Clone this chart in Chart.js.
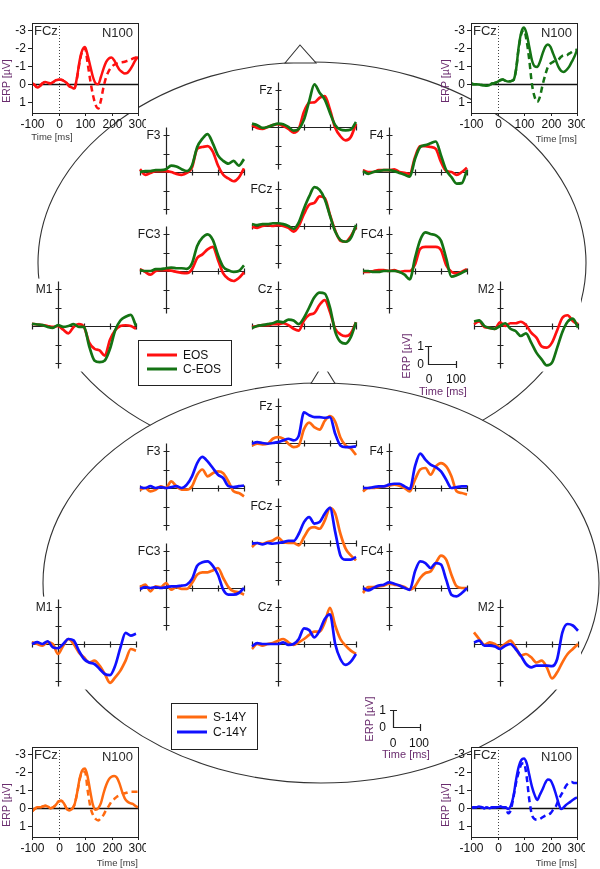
<!DOCTYPE html>
<html lang="en">
<head>
<meta charset="UTF-8">
<title>ERP topography</title>
<script src="https://cdn.jsdelivr.net/npm/chart.js"></script>
<style>
  html, body { margin: 0; padding: 0; background: #fff; }
  #stage { position: relative; width: 600px; height: 869px; overflow: hidden; font-family: "Liberation Sans", Arial, sans-serif; }
  #stage canvas, #stage svg { position: absolute; }
</style>
</head>
<body>
<div id="stage">
  <svg id="heads" width="600" height="869" style="left:0;top:0">
    <ellipse cx="312" cy="263" rx="274" ry="201" fill="none" stroke="#333" stroke-width="1.1"/>
    <polygon points="285,63 300,45 316,63" fill="#fff" stroke="#333" stroke-width="1.1"/>
    <ellipse cx="321" cy="583" rx="278" ry="200" fill="#fff" stroke="#333" stroke-width="1.1"/>
    <polygon points="311,383.5 323,364 335,383.5" fill="#fff" stroke="#333" stroke-width="1.1"/>
  </svg>
</div>
<script>
// time axes (ms)
const t20 = [-100, -80, -60, -40, -20, 0, 20, 40, 60, 80, 100, 120, 140, 160, 180, 200, 220, 240, 260, 280, 300];
const t10 = [-100, -90, -80, -70, -60, -50, -40, -30, -20, -10, 0, 10, 20, 30, 40, 50, 60, 70, 80, 90, 100,
             110, 120, 130, 140, 150, 160, 170, 180, 190, 200, 210, 220, 230, 240, 250, 260, 270, 280, 290, 300];
const siteXTicks = [-100, 0, 100, 200, 300];
const siteYTicks = [-2, -1, 0, 1, 2];
const boxYTicks = [-3, -2, -1, 0, 1];

// EOS (red) vs C-EOS (green), µV
const eosFz  = [-0.1, 0.05, 0.1, 0.0, -0.1, -0.15, -0.05, 0.1, 0.3, 0.1, -0.83, -1.31, -1.33, -1.58, -1.67, -0.94, 0.04, 0.5, 0.72, 0.54, -0.18];
const ceosFz = [-0.18, -0.1, 0.05, 0.0, -0.1, -0.18, -0.15, 0.0, 0.2, 0.1, -0.4, -1.4, -2.3, -1.85, -1.48, -0.76, -0.1, 0.14, 0.18, 0.14, -0.27];
const eosF3  = [-0.15, 0.15, 0.05, -0.05, -0.05, -0.05, 0.0, 0.1, 0.15, 0.05, -0.25, -1.25, -1.35, -1.4, -1.1, -0.35, 0.15, 0.35, 0.5, 0.3, -0.2];
const ceosF3 = [0.0, -0.05, -0.05, -0.1, -0.1, -0.15, -0.35, -0.3, -0.15, -0.05, -0.35, -1.35, -1.8, -2.05, -1.55, -0.9, -0.6, -0.45, -0.6, -0.35, -0.7];
const eosF4  = [-0.1, 0.0, 0.0, -0.1, -0.1, -0.1, -0.15, 0.0, 0.05, 0.1, -0.8, -1.4, -1.4, -1.35, -1.25, -0.54, -0.05, 0.0, 0.15, 0.0, -0.23];
const ceosF4 = [-0.05, 0.1, 0.0, -0.05, -0.1, -0.1, -0.05, 0.05, 0.15, 0.25, -0.7, -1.35, -1.45, -1.55, -1.65, -0.9, -0.1, 0.27, 0.63, 0.6, -0.1];
const eosFCz  = [0.05, 0.1, 0.0, -0.05, 0.0, -0.05, 0.0, 0.1, 0.3, 0.0, -0.65, -1.15, -1.25, -1.6, -1.5, -0.6, 0.25, 0.8, 0.85, 0.55, 0.05];
const ceosFCz = [-0.1, -0.05, -0.1, -0.1, -0.15, -0.15, -0.1, 0.0, 0.15, -0.2, -0.95, -1.6, -2.1, -1.95, -1.45, -0.55, 0.3, 0.75, 0.85, 0.65, -0.05];
const eosFC3  = [-0.1, 0.05, 0.2, 0.0, -0.05, -0.05, -0.02, 0.05, 0.1, 0.12, -0.1, -0.7, -0.9, -1.17, -1.3, -0.6, 0.13, 0.43, 0.54, 0.38, 0.07];
const ceosFC3 = [-0.05, 0.0, 0.0, -0.1, -0.1, -0.15, -0.18, -0.15, -0.15, -0.12, -0.41, -1.35, -1.8, -1.98, -1.68, -0.86, -0.23, -0.04, 0.05, 0.0, -0.3];
const eosFC4  = [0.05, 0.05, 0.0, -0.05, -0.05, 0.0, -0.05, 0.05, 0.0, 0.0, -0.35, -1.2, -1.3, -1.3, -1.3, -1.13, -0.32, 0.04, 0.13, 0.04, -0.1];
const ceosFC4 = [0.0, 0.0, 0.05, 0.05, 0.0, 0.0, 0.0, 0.05, 0.2, 0.45, -0.7, -1.68, -2.09, -2.0, -1.93, -1.64, -0.68, 0.3, 0.23, 0.1, -0.05];
const eosCz  = [0.05, 0.0, -0.05, -0.05, -0.1, -0.1, -0.15, -0.05, 0.15, 0.25, -0.3, -0.6, -0.7, -1.15, -1.4, -0.75, 0.15, 0.45, 0.55, 0.4, -0.2];
const ceosCz = [0.1, 0.0, -0.05, -0.1, -0.15, -0.25, -0.2, -0.35, -0.3, -0.1, -0.45, -1.0, -1.55, -1.8, -1.75, -1.0, 0.3, 0.85, 0.95, 0.6, -0.2];
const eosM1  = [-0.12, -0.08, -0.05, 0.0, 0.05, 0.0, 0.2, 0.4, 0.05, -0.1, 0.05, 0.9, 1.23, 1.32, 1.6, 0.74, 0.23, 0.0, -0.04, 0.0, 0.15];
const ceosM1 = [-0.12, -0.08, -0.05, 0.05, 0.1, -0.05, 0.05, 0.0, -0.1, 0.05, 0.05, 1.1, 1.86, 1.95, 1.86, 1.23, 0.23, -0.3, -0.5, -0.6, 0.0];
const eosM2  = [-0.1, -0.25, 0.05, 0.1, 0.15, -0.2, 0.0, -0.15, -0.15, -0.23, -0.05, 0.36, 0.63, 1.1, 1.17, 0.9, 0.23, -0.45, -0.58, -0.27, -0.1];
const ceosM2 = [-0.25, -0.3, 0.0, 0.1, 0.15, 0.0, -0.15, 0.15, 0.27, 0.54, 0.4, 0.9, 1.44, 1.8, 2.13, 1.98, 1.17, 0.32, -0.23, -0.4, 0.09];

// S-14Y (orange) vs C-14Y (blue), µV
const s14Fz = [0.13, 0.04, 0.07, 0.04, -0.23, -0.32, -0.23, 0.04, 0.22, 0.13, -0.75, -1.1, -0.85, -0.72, -1.2, -1.45, -1.15, -0.3, 0.13, 0.3, 0.65];
const c14Fz = [0.04, -0.05, 0.0, 0.04, 0.0, -0.05, -0.14, -0.23, -0.14, -0.4, -1.65, -1.5, -1.4, -1.4, -1.36, -1.4, -0.5, 0.13, 0.22, 0.22, 0.18];
const s14F3 = [0.09, 0.0, 0.18, 0.09, -0.09, 0.0, -0.36, -0.09, 0.09, 0.09, -0.09, -0.72, -1.0, -0.63, -0.8, -0.9, -0.8, -0.36, 0.18, 0.27, 0.45];
const c14F3 = [-0.05, 0.0, -0.1, 0.0, -0.05, 0.0, -0.05, -0.1, 0.0, -0.18, -0.63, -1.35, -1.68, -1.44, -1.08, -0.72, -0.54, -0.1, -0.05, -0.1, -0.13];
const s14F4 = [0.18, 0.0, 0.0, -0.05, -0.09, -0.13, -0.18, -0.13, 0.0, 0.18, -0.45, -1.0, -1.08, -0.72, -1.17, -1.35, -1.17, -0.63, 0.18, 0.27, 0.36];
const c14F4 = [0.0, 0.0, -0.05, -0.09, -0.09, -0.18, -0.23, -0.23, -0.09, 0.05, -1.17, -1.86, -1.53, -1.26, -1.13, -0.9, -0.45, 0.0, -0.05, -0.09, -0.09];
const s14FCz = [0.22, 0.0, 0.04, -0.05, -0.14, -0.29, -0.05, 0.0, 0.0, 0.13, -0.32, -0.77, -0.86, -0.77, -1.22, -1.9, -1.59, -0.5, 0.3, 0.67, 0.94];
const c14FCz = [0.04, 0.0, 0.07, 0.0, 0.04, 0.0, -0.05, -0.11, -0.11, -0.5, -1.13, -1.4, -1.05, -1.13, -1.59, -1.9, -0.6, 0.67, 0.9, 0.9, 0.75];
const s14FC3 = [-0.05, -0.18, 0.18, -0.09, -0.05, -0.27, 0.09, -0.05, 0.05, 0.05, -0.27, -0.72, -0.85, -0.85, -0.95, -1.08, -0.54, -0.05, 0.18, 0.23, 0.36];
const c14FC3 = [0.05, -0.05, 0.0, -0.05, 0.0, -0.05, -0.09, -0.09, -0.13, -0.18, -0.49, -1.2, -1.39, -1.44, -1.2, -0.72, 0.09, 0.36, 0.36, 0.27, 0.0];
const s14FC4 = [0.27, -0.05, -0.05, -0.09, -0.13, -0.23, -0.18, -0.13, -0.05, 0.09, -0.09, -0.54, -0.81, -0.9, -1.35, -1.75, -1.53, -0.72, -0.09, 0.0, 0.0];
const c14FC4 = [0.0, 0.13, 0.0, -0.13, -0.18, -0.3, -0.23, -0.13, 0.0, 0.1, -0.9, -1.44, -1.35, -1.08, -1.35, -1.27, -0.45, 0.36, 0.45, 0.27, 0.0];
const s14Cz = [0.27, 0.0, 0.09, 0.0, -0.05, -0.18, -0.27, -0.09, 0.05, -0.09, -0.27, -0.49, -0.67, -0.67, -1.17, -1.95, -1.0, -0.27, 0.09, 0.36, 0.54];
const c14Cz = [0.13, -0.05, 0.0, 0.0, 0.0, 0.0, -0.09, 0.05, 0.0, -0.27, -0.85, -0.75, -0.36, -0.72, -1.35, -1.6, 0.0, 0.81, 1.13, 0.95, 0.54];
const s14M1 = [-0.09, 0.0, 0.09, -0.09, 0.0, 0.54, 0.09, -0.27, 0.0, 0.45, 0.72, 1.0, 0.9, 1.17, 1.62, 2.1, 1.8, 1.44, 0.9, 0.27, 0.36];
const c14M1 = [0.0, -0.1, 0.0, -0.15, 0.18, 0.23, 0.0, -0.27, -0.2, 0.36, 0.81, 1.0, 1.08, 1.35, 1.62, 1.68, 1.17, 0.2, -0.6, -0.45, -0.55];
const s14M2 = [-0.63, -0.27, 0.05, -0.09, 0.0, 0.18, 0.0, -0.18, 0.18, 0.63, 0.54, 0.72, 1.0, 0.9, 1.26, 1.86, 1.53, 0.99, 0.54, 0.27, 0.0];
const c14M2 = [-0.09, -0.18, 0.09, 0.09, 0.13, 0.27, 0.09, 0.0, 0.27, 0.63, 1.08, 1.26, 1.17, 1.17, 1.17, 1.2, 0.81, -0.63, -1.08, -1.0, -0.72];

// FCz N100 insets (solid + dashed), µV
const eosN100     = [-0.05, 0.05, 0.18, 0.1, -0.05, -0.12, -0.08, -0.05, -0.12, -0.22, -0.25, -0.25, -0.18, -0.08, 0.1, 0.18, 0.24, -0.4, -1.33, -1.9,
                     -2.07, -1.6, -1.0, -0.4, -0.05, 0.0, -0.4, -0.87, -1.24, -1.43, -1.48, -1.33, -1.05, -0.8, -0.68, -0.6, -0.63, -0.8, -1.05, -1.33, -1.52];
const eosN100Dash = [-0.05, 0.05, 0.18, 0.1, -0.05, -0.12, -0.08, -0.05, -0.12, -0.22, -0.25, -0.25, -0.18, -0.08, 0.1, 0.18, 0.24, -0.35, -1.25, -1.85,
                     -2.0, -1.15, -0.2, 0.6, 1.15, 1.35, 0.9, 0.15, -0.4, -0.74, -0.96, -1.08, -1.15, -1.2, -1.22, -1.25, -1.3, -1.35, -1.42, -1.47, -1.52];
const ceosN100     = [-0.04, 0.0, 0.0, 0.02, 0.05, 0.06, 0.08, 0.05, -0.04, -0.07, -0.13, -0.22, -0.26, -0.19, -0.15, -0.17, -0.22, -0.8, -2.07, -2.9,
                      -3.15, -2.8, -2.07, -1.33, -1.0, -0.96, -1.24, -1.7, -2.07, -2.2, -2.07, -1.7, -1.33, -0.96, -0.74, -0.68, -0.78, -0.96, -1.24, -1.52, -1.9];
const ceosN100Dash = [-0.04, 0.0, 0.0, 0.02, 0.05, 0.06, 0.08, 0.05, -0.04, -0.07, -0.13, -0.22, -0.26, -0.19, -0.15, -0.17, -0.22, -0.8, -2.0, -2.8,
                      -3.0, -2.4, -1.33, 0.0, 0.7, 0.98, 0.7, 0.05, -0.5, -0.96, -1.15, -1.24, -1.33, -1.37, -1.52, -1.6, -1.6, -1.7, -1.78, -1.87, -1.93];
const s14N100     = [0.18, 0.05, -0.05, -0.05, -0.09, -0.13, -0.09, 0.0, -0.05, -0.18, -0.37, -0.42, -0.28, 0.0, 0.13, 0.05, -0.18, -0.83, -1.66, -2.12,
                     -2.2, -1.75, -0.92, -0.18, 0.09, 0.0, -0.28, -0.83, -1.29, -1.6, -1.75, -1.79, -1.7, -1.38, -0.92, -0.55, -0.37, -0.28, -0.24, -0.13, -0.05];
const s14N100Dash = [0.18, 0.05, -0.05, -0.05, -0.09, -0.13, -0.09, 0.0, -0.05, -0.18, -0.37, -0.42, -0.28, 0.0, 0.13, 0.05, -0.18, -0.8, -1.6, -2.0,
                     -2.03, -1.0, -0.09, 0.37, 0.6, 0.68, 0.55, 0.37, 0.09, -0.13, -0.37, -0.5, -0.64, -0.72, -0.79, -0.83, -0.87, -0.92, -0.92, -0.92, -0.92];
const c14N100     = [0.0, -0.05, -0.05, -0.09, -0.05, 0.0, -0.05, 0.0, -0.05, -0.05, -0.05, -0.09, -0.05, -0.05, 0.05, -0.13, -0.65, -1.57, -2.3, -2.68,
                     -2.76, -2.5, -1.85, -1.2, -0.74, -0.46, -0.75, -1.05, -1.4, -1.6, -1.55, -1.25, -0.8, -0.3, 0.05, -0.05, -0.2, -0.3, -0.42, -0.52, -0.6];
const c14N100Dash = [0.0, -0.05, -0.05, -0.09, -0.05, 0.0, -0.05, 0.0, -0.05, -0.05, -0.05, -0.09, -0.05, -0.05, 0.28, 0.1, -0.6, -1.4, -2.0, -2.45,
                     -2.5, -1.75, -0.46, 0.37, 0.6, 0.64, 0.6, 0.5, 0.42, 0.37, 0.28, 0.09, -0.09, -0.46, -0.74, -1.0, -1.27, -1.4, -1.45, -1.4, -1.4];

const RED = '#ff1010', GREEN = '#147314', ORANGE = '#ff6a10', BLUE = '#1010ff';
const FONT = '"Liberation Sans", Arial, sans-serif';
const stage = document.getElementById('stage');

function pts(times, vals) {
  return times.map((t, i) => ({ x: t, y: vals[i] }));
}

function makeCanvas(left, top, w, h) {
  const cv = document.createElement('canvas');
  cv.width = w; cv.height = h;
  cv.style.left = left + 'px'; cv.style.top = top + 'px';
  cv.style.width = w + 'px'; cv.style.height = h + 'px';
  stage.appendChild(cv);
  return cv;
}

// crossing axes + ticks + electrode name, like the EEG-software style
const siteAxes = {
  id: 'siteAxes',
  beforeDraw(chart, args, opts) {
    const { ctx, scales: { x, y } } = chart;
    const x0 = x.getPixelForValue(0);
    ctx.save();
    ctx.font = '12px ' + FONT;
    const lw = ctx.measureText(opts.label).width;
    const l = Math.min(x.getPixelForValue(x.min) - 3, x0 - 8 - lw);
    const r = x.getPixelForValue(x.max) + 3;
    const t = y.getPixelForValue(y.min) - 3, b = y.getPixelForValue(y.max) + 3;
    ctx.fillStyle = '#fff';
    ctx.fillRect(l, t, r - l, b - t);
    ctx.restore();
  },
  beforeDatasetsDraw(chart, args, opts) {
    const { ctx, scales: { x, y } } = chart;
    const x0 = Math.round(x.getPixelForValue(0)) + 0.5;
    const y0 = Math.round(y.getPixelForValue(0)) + 0.5;
    ctx.save();
    ctx.strokeStyle = '#222';
    ctx.lineWidth = 1.2;
    ctx.beginPath();
    ctx.moveTo(x.getPixelForValue(x.min), y0);
    ctx.lineTo(x.getPixelForValue(x.max), y0);
    ctx.moveTo(x0, y.getPixelForValue(y.min));
    ctx.lineTo(x0, y.getPixelForValue(y.max));
    siteXTicks.forEach(t => {
      const px = Math.round(x.getPixelForValue(t)) + 0.5;
      ctx.moveTo(px, y0 - 3); ctx.lineTo(px, y0 + 3);
    });
    siteYTicks.forEach(v => {
      const py = Math.round(y.getPixelForValue(v)) + 0.5;
      ctx.moveTo(x0 - 3, py); ctx.lineTo(x0 + 3, py);
    });
    ctx.stroke();
    ctx.fillStyle = '#1a1a1a';
    ctx.font = '12px ' + FONT;
    ctx.textAlign = 'right';
    ctx.textBaseline = 'middle';
    ctx.fillText(opts.label, x0 - 6, y.getPixelForValue(-2) + 0.5);
    ctx.restore();
  }
};

function sitePlot(label, ox, oy, back, front, backColor, frontColor) {
  const cv = makeCanvas(ox - 50, oy - 50, 132, 98);
  new Chart(cv, {
    type: 'line',
    data: {
      datasets: [
        { data: pts(t20, front), borderColor: frontColor, order: 0, clip: false },
        { data: pts(t20, back), borderColor: backColor, order: 1, clip: false }
      ]
    },
    options: {
      responsive: false, animation: false, devicePixelRatio: 1, events: [],
      layout: { padding: { left: 24, right: 4, top: 5.6, bottom: 5.45 } },
      plugins: { legend: { display: false }, tooltip: { enabled: false }, siteAxes: { label } },
      scales: {
        x: { type: 'linear', min: -100, max: 300, display: false },
        y: { type: 'linear', min: -2.4, max: 2.3, reverse: true, display: false }
      },
      elements: {
        point: { radius: 0 },
        line: { borderWidth: 2.7, cubicInterpolationMode: 'monotone', fill: false }
      }
    },
    plugins: [siteAxes]
  });
}

// framed FCz inset with N100 label
const n100Box = {
  id: 'n100Box',
  beforeDraw(chart) {
    const { ctx, chartArea: a } = chart;
    ctx.save();
    ctx.fillStyle = '#fff';
    ctx.fillRect(a.left, a.top, a.right - a.left, a.bottom - a.top);
    ctx.restore();
  },
  beforeDatasetsDraw(chart) {
    const { ctx, chartArea: a, scales: { x, y } } = chart;
    const y0 = Math.round(y.getPixelForValue(0)) + 0.5;
    const x0 = Math.round(x.getPixelForValue(0)) + 0.5;
    ctx.save();
    ctx.strokeStyle = '#111';
    ctx.lineWidth = 1.5;
    ctx.beginPath(); ctx.moveTo(a.left, y0); ctx.lineTo(a.right, y0); ctx.stroke();
    ctx.lineWidth = 1;
    ctx.strokeStyle = '#444';
    ctx.setLineDash([1, 2]);
    ctx.beginPath(); ctx.moveTo(x0, a.top); ctx.lineTo(x0, a.bottom); ctx.stroke();
    ctx.setLineDash([]);
    ctx.fillStyle = '#2a2a2a';
    ctx.font = '13px ' + FONT;
    ctx.textBaseline = 'middle';
    ctx.textAlign = 'left';
    ctx.fillText('FCz', a.left + 2, a.top + 8);
    ctx.textAlign = 'right';
    ctx.fillText('N100', a.left + 101, a.top + 10);
    ctx.restore();
  },
  afterDatasetsDraw(chart, args, opts) {
    const { ctx, chartArea: a, scales: { x, y } } = chart;
    ctx.save();
    ctx.strokeStyle = '#222';
    ctx.lineWidth = 1;
    ctx.strokeRect(Math.round(a.left) + 0.5, Math.round(a.top) + 0.5, Math.round(a.right - a.left), Math.round(a.bottom - a.top));
    ctx.fillStyle = '#111';
    ctx.font = '12px ' + FONT;
    ctx.textBaseline = 'middle';
    ctx.textAlign = 'right';
    ctx.beginPath();
    boxYTicks.forEach(v => {
      const py = Math.round(y.getPixelForValue(v)) + 0.5;
      ctx.moveTo(a.left - 4, py); ctx.lineTo(a.left, py);
      ctx.fillText(String(v), a.left - 6, py);
    });
    ctx.textAlign = 'center';
    siteXTicks.forEach(t => {
      const px = Math.round(x.getPixelForValue(t)) + 0.5;
      ctx.moveTo(px, a.bottom); ctx.lineTo(px, a.bottom + 3);
      ctx.fillText(String(t), px, a.bottom + 12);
    });
    ctx.stroke();
    ctx.font = '9.5px ' + FONT;
    ctx.fillStyle = '#3a3a3a';
    if (opts.timeAlign === 'left') {
      ctx.textAlign = 'center';
      ctx.fillText('Time [ms]', a.left + 20, a.bottom + 24);
    } else {
      ctx.textAlign = 'right';
      ctx.fillText('Time [ms]', a.right, a.bottom + 26);
    }
    ctx.translate(a.left - 25, a.top + 58);
    ctx.rotate(-Math.PI / 2);
    ctx.textAlign = 'center';
    ctx.fillStyle = '#6a2c6e';
    ctx.font = '10.5px ' + FONT;
    ctx.fillText('ERP [µV]', 0, 0);
    ctx.restore();
  }
};

function n100Plot(L, T, solid, dashed, color, timeAlign) {
  const cv = makeCanvas(L - 32, T - 8, 146, 132);
  new Chart(cv, {
    type: 'line',
    data: {
      datasets: [
        { data: pts(t10, solid), borderColor: color, order: 0 },
        { data: pts(t10, dashed), borderColor: color, borderDash: [6, 4], order: 1 }
      ]
    },
    options: {
      responsive: false, animation: false, devicePixelRatio: 1, events: [],
      layout: { padding: { left: 32, right: 8, top: 8, bottom: 34 } },
      plugins: { legend: { display: false }, tooltip: { enabled: false }, n100Box: { timeAlign } },
      scales: {
        x: { type: 'linear', min: -100, max: 300, display: false },
        y: { type: 'linear', min: -3.4, max: 1.6, reverse: true, display: false }
      },
      elements: {
        point: { radius: 0 },
        line: { borderWidth: 2.5, cubicInterpolationMode: 'monotone', fill: false }
      }
    },
    plugins: [n100Box]
  });
}

// upper head: EOS vs C-EOS
sitePlot('Fz', 278, 127, eosFz, ceosFz, RED, GREEN);
sitePlot('F3', 166, 172, eosF3, ceosF3, RED, GREEN);
sitePlot('F4', 389, 172, eosF4, ceosF4, RED, GREEN);
sitePlot('FCz', 278, 226, eosFCz, ceosFCz, RED, GREEN);
sitePlot('FC3', 166, 271, eosFC3, ceosFC3, RED, GREEN);
sitePlot('FC4', 389, 271, eosFC4, ceosFC4, RED, GREEN);
sitePlot('Cz', 278, 326, eosCz, ceosCz, RED, GREEN);
sitePlot('M1', 58, 326, eosM1, ceosM1, RED, GREEN);
sitePlot('M2', 500, 326, eosM2, ceosM2, RED, GREEN);

// lower head: S-14Y vs C-14Y
sitePlot('Fz', 278, 443, s14Fz, c14Fz, ORANGE, BLUE);
sitePlot('F3', 166, 488, s14F3, c14F3, ORANGE, BLUE);
sitePlot('F4', 389, 488, s14F4, c14F4, ORANGE, BLUE);
sitePlot('FCz', 278, 543, s14FCz, c14FCz, ORANGE, BLUE);
sitePlot('FC3', 166, 588, s14FC3, c14FC3, ORANGE, BLUE);
sitePlot('FC4', 389, 588, s14FC4, c14FC4, ORANGE, BLUE);
sitePlot('Cz', 278, 644, s14Cz, c14Cz, ORANGE, BLUE);
sitePlot('M1', 58, 644, s14M1, c14M1, ORANGE, BLUE);
sitePlot('M2', 500, 644, s14M2, c14M2, ORANGE, BLUE);

// FCz insets in the corners
n100Plot(32, 23, eosN100, eosN100Dash, RED, 'left');
n100Plot(471, 23, ceosN100, ceosN100Dash, GREEN, 'right');
n100Plot(32, 747, s14N100, s14N100Dash, ORANGE, 'right');
n100Plot(471, 747, c14N100, c14N100Dash, BLUE, 'right');

// legends and scale bars on top
const overlay = document.createElementNS('http://www.w3.org/2000/svg', 'svg');
overlay.setAttribute('width', 600);
overlay.setAttribute('height', 869);
overlay.style.left = '0px';
overlay.style.top = '0px';
overlay.innerHTML = `
  <g font-family='"Liberation Sans", Arial, sans-serif' font-size="12" fill="#111">
    <rect x="138.5" y="340.5" width="93" height="45" fill="#fff" stroke="#222" stroke-width="1"/>
    <line x1="147" y1="355" x2="177" y2="355" stroke="${RED}" stroke-width="3"/>
    <line x1="147" y1="369" x2="177" y2="369" stroke="${GREEN}" stroke-width="3"/>
    <text x="183" y="359">EOS</text>
    <text x="183" y="373">C-EOS</text>

    <rect x="171.5" y="703.5" width="86" height="46" fill="#fff" stroke="#222" stroke-width="1"/>
    <line x1="177" y1="717" x2="207" y2="717" stroke="${ORANGE}" stroke-width="3"/>
    <line x1="177" y1="732" x2="207" y2="732" stroke="${BLUE}" stroke-width="3"/>
    <text x="213" y="721">S-14Y</text>
    <text x="213" y="736">C-14Y</text>

    <path d="M428.5,346 V364.5 H456 M425,346.5 H432 M456.5,361 V368" fill="none" stroke="#222" stroke-width="1.2"/>
    <text x="424" y="350" text-anchor="end">1</text>
    <text x="424" y="368" text-anchor="end">0</text>
    <text x="429" y="383" text-anchor="middle">0</text>
    <text x="456" y="383" text-anchor="middle">100</text>
    <text transform="translate(410,356) rotate(-90)" text-anchor="middle" font-size="11" fill="#6a2c6e">ERP [µV]</text>
    <text x="443" y="395" text-anchor="middle" font-size="11" fill="#6a2c6e">Time [ms]</text>

    <path d="M393.5,710 V727.5 H420 M390,710.5 H397 M420.5,724 V731" fill="none" stroke="#222" stroke-width="1.2"/>
    <text x="386" y="714" text-anchor="end">1</text>
    <text x="386" y="731" text-anchor="end">0</text>
    <text x="393" y="747" text-anchor="middle">0</text>
    <text x="419" y="747" text-anchor="middle">100</text>
    <text transform="translate(373,719) rotate(-90)" text-anchor="middle" font-size="11" fill="#6a2c6e">ERP [µV]</text>
    <text x="406" y="758" text-anchor="middle" font-size="11" fill="#6a2c6e">Time [ms]</text>
  </g>`;
stage.appendChild(overlay);
</script>
</body>
</html>
